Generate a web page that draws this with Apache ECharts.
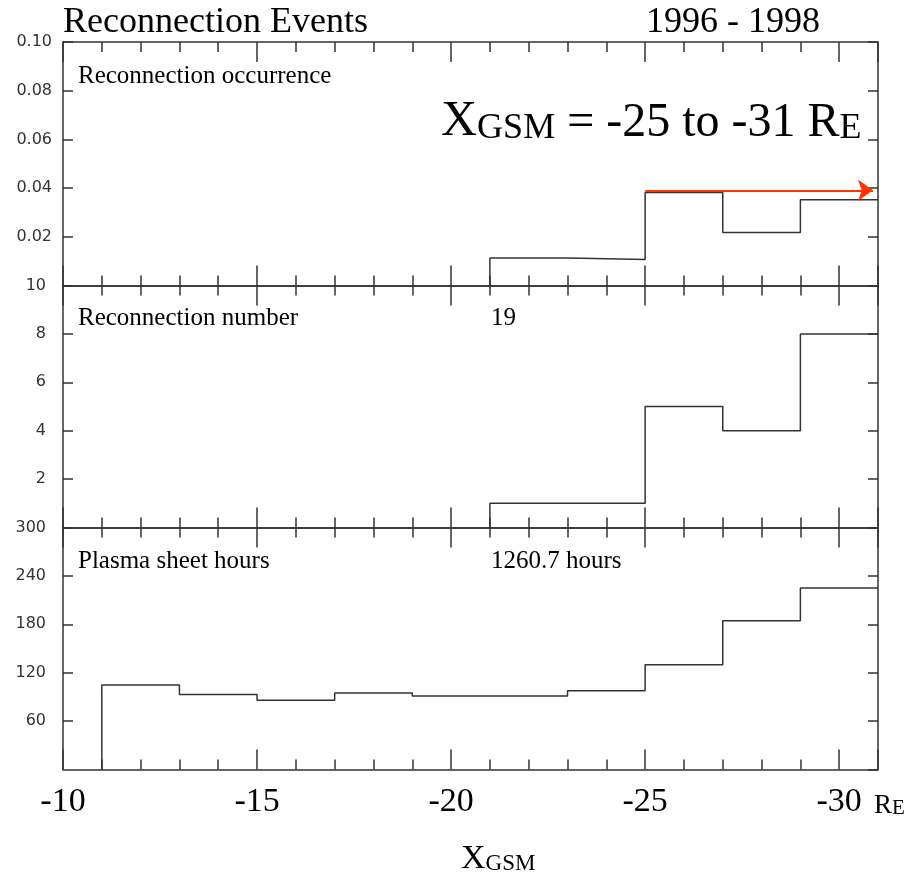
<!DOCTYPE html>
<html><head><meta charset="utf-8">
<script src="https://cdn.jsdelivr.net/npm/echarts@6/dist/echarts.min.js"></script>
<style>html,body{margin:0;padding:0;background:#fff}#c{width:918px;height:875px}</style>
</head><body><div id="c"></div>
<script>
// ---- data ----
const binStarts = [-11, -13, -15, -17, -19, -21, -23, -25, -27, -29];
const binWidth = 2;
const plasmaHours = [104.7, 93.1, 85.7, 94.7, 91.0, 91.0, 97.6, 129.9, 184.5, 225.1];
const reconNumber = [null, null, null, null, null, 1, 1, 5, 4, 8];
const reconOccurrence = [null, null, null, null, null, 0.0113, 0.0107, 0.0382, 0.0218, 0.0352];
const xTickLabels = ['-10', '-15', '-20', '-25', '-30'];
const arrowFrom = -25, arrowTo = -30.87, arrowLevel = 0.0391;
const panelTitles = ['Reconnection occurrence', 'Reconnection number', 'Plasma sheet hours'];
const totalNumberText = '19';
const totalHoursText = '1260.7 hours';

const SERIF = "'Liberation Serif', 'Times New Roman', serif";
const SANS = "'DejaVu Sans', sans-serif";
const AX = '#333';

function histData(vals) {
  const pts = [];
  let started = false;
  vals.forEach((v, i) => {
    if (v == null) return;
    const s = binStarts[i], e = binStarts[i] - binWidth;
    if (!started) { pts.push([s, 0]); started = true; }
    pts.push([s, v]); pts.push([e, v]);
  });
  return pts;
}

const grids = [
  {left: 63, width: 815, top: 42, height: 243.5},
  {left: 63, width: 815, top: 285.5, height: 242},
  {left: 63, width: 815, top: 527.5, height: 242}
].map(g => Object.assign(g, {containLabel: false, outerBoundsMode: 'none'}));

function xAxisCfg(gi, pos, labels) {
  return {
    type: 'value', gridIndex: gi, position: pos, min: -31, max: -10, inverse: true, splitNumber: 5,
    axisLine: {show: true, onZero: false, lineStyle: {color: AX, width: 1.5}},
    axisTick: {show: true, inside: true, length: 20, lineStyle: {color: AX, width: 1.5}},
    minorTick: {show: true, splitNumber: 5, length: 10, lineStyle: {color: AX, width: 1.5}},
    splitLine: {show: false}, minorSplitLine: {show: false},
    axisLabel: labels ? {
      show: true, margin: 16, color: '#000', fontFamily: SERIF, fontSize: 34,
      showMinLabel: true, showMaxLabel: true,
      formatter: v => { const s = String(v); return xTickLabels.indexOf(s) >= 0 ? s : ''; }
    } : {show: false}
  };
}
function yAxisCfg(gi, pos, max, interval, labels, margin, fmt) {
  return {
    type: 'value', gridIndex: gi, position: pos, min: 0, max: max, interval: interval,
    axisLine: {show: true, onZero: false, lineStyle: {color: AX, width: 1.5}},
    axisTick: {show: true, inside: true, length: 10, lineStyle: {color: AX, width: 1.5}},
    splitLine: {show: false},
    axisLabel: labels ? {
      show: true, margin: margin, color: '#333', fontFamily: SANS, fontSize: 16,
      showMinLabel: false, showMaxLabel: true, formatter: fmt
    } : {show: false}
  };
}

const xAxes = [
  xAxisCfg(0, 'bottom', false), xAxisCfg(0, 'top', false),
  xAxisCfg(1, 'bottom', false), xAxisCfg(1, 'top', false),
  xAxisCfg(2, 'bottom', true), xAxisCfg(2, 'top', false)
];
const yAxes = [
  yAxisCfg(0, 'left', 0.1, 0.02, true, 11, v => v.toFixed(2)), yAxisCfg(0, 'right', 0.1, 0.02, false),
  yAxisCfg(1, 'left', 10, 2, true, 17, v => String(v)), yAxisCfg(1, 'right', 10, 2, false),
  yAxisCfg(2, 'left', 300, 60, true, 17, v => String(v)), yAxisCfg(2, 'right', 300, 60, false)
];

const lineBase = {type: 'line', symbol: 'none', silent: true, animation: false,
  lineStyle: {color: AX, width: 1.5}, itemStyle: {color: AX}};

function txt(x, baseline, text, fs) {
  return {type: 'text', x: x, y: baseline - 0.28 * fs, silent: true,
    style: {text: text, fill: '#000', font: fs + 'px ' + SERIF,
      align: 'left', verticalAlign: 'middle', textAlign: 'left', textVerticalAlign: 'middle'}};
}
function richTxt(x, baseline, text, sizes) {
  const maxFs = Math.max.apply(null, Object.values(sizes));
  const rich = {};
  Object.keys(sizes).forEach(k => {
    rich[k] = {fontSize: sizes[k], fontFamily: SERIF, fill: '#000', color: '#000', verticalAlign: 'bottom'};
  });
  return {type: 'text', x: x, y: baseline - 0.3 * maxFs, silent: true,
    style: {text: text, rich: rich, fill: '#000', fontFamily: SERIF, fontSize: maxFs,
      align: 'left', verticalAlign: 'middle', textAlign: 'left', textVerticalAlign: 'middle'}};
}

const option = {
  animation: false,
  backgroundColor: '#fff',
  grid: grids,
  xAxis: xAxes,
  yAxis: yAxes,
  series: [
    Object.assign({}, lineBase, {xAxisIndex: 0, yAxisIndex: 0, data: histData(reconOccurrence),
      markLine: {silent: true, animation: false, symbol: ['none', 'arrow'], symbolSize: [16, 15],
        label: {show: false}, lineStyle: {color: '#ff3300', width: 2, type: 'solid'},
        emphasis: {disabled: true},
        data: [[{coord: [arrowFrom, arrowLevel]}, {coord: [arrowTo, arrowLevel]}]]}}),
    Object.assign({}, lineBase, {xAxisIndex: 2, yAxisIndex: 2, data: histData(reconNumber)}),
    Object.assign({}, lineBase, {xAxisIndex: 4, yAxisIndex: 4, data: histData(plasmaHours)})
  ],
  graphic: [
    txt(63, 33, 'Reconnection Events', 36),
    txt(646, 33, '1996 - 1998', 36),
    txt(78, 83, panelTitles[0], 25),
    txt(78, 325, panelTitles[1], 25),
    txt(491, 325, totalNumberText, 25),
    txt(78, 568, panelTitles[2], 25),
    txt(491, 568, totalHoursText, 25),
    richTxt(441, 137, '{a|X}{b|GSM}{c| = -25 to -31 R}{b|E}', {a: 50, b: 36, c: 48}),
    richTxt(874, 814, '{a|R}{b|E}', {a: 27, b: 21}),
    richTxt(461, 869, '{a|X}{b|GSM}', {a: 34, b: 23})
  ]
};
const chart = echarts.init(document.getElementById('c'), null, {renderer: 'canvas'});
chart.setOption(option);
</script></body></html>
